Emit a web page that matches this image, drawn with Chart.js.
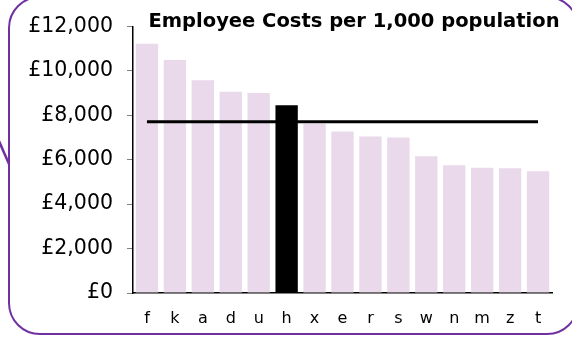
<!DOCTYPE html>
<html>
<head>
<meta charset="utf-8">
<script src="https://cdn.jsdelivr.net/npm/chart.js@4.4.1/dist/chart.umd.min.js"></script>
<style>
  html, body { margin: 0; padding: 0; background: #fff; overflow: hidden; }
  #wrap { position: relative; width: 572px; height: 338px; overflow: hidden; }
  #frame { position: absolute; left: 0; top: 0; }
  #myChart { position: absolute; left: 0; top: 0; }
</style>
</head>
<body>
<div id="wrap">
  <!-- rounded purple box round the chart, plus the pointer stroke on its left -->
  <svg id="frame" width="572" height="338">
    <rect x="9" y="-3" width="569" height="337" rx="31" ry="31" fill="none" stroke="#7030a0" stroke-width="2"/>
    <line x1="-1" y1="141" x2="9" y2="164" stroke="#7030a0" stroke-width="2.5"/>
  </svg>
  <canvas id="myChart" width="572" height="338"></canvas>
</div>
<script>
const titleText = 'Employee Costs per 1,000 population';
const categories = ['f', 'k', 'a', 'd', 'u', 'h', 'x', 'e', 'r', 's', 'w', 'n', 'm', 'z', 't'];
const costs = [11210, 10480, 9570, 9050, 9000, 8450, 7620, 7270, 7040, 7000, 6150, 5750, 5640, 5610, 5480];
const average = [7700, 7700, 7700, 7700, 7700, 7700, 7700, 7700, 7700, 7700, 7700, 7700, 7700, 7700, 7700];
const highlight = 'h';
const yTicks = [0, 2000, 4000, 6000, 8000, 10000, 12000];

const barColours = categories.map(c => c === highlight ? '#000000' : '#ead9eb');

// title sits inside the plot area, so draw it by hand
const titlePlugin = {
    id: 'insideTitle',
    afterDraw(chart) {
        const ctx = chart.ctx;
        ctx.save();
        ctx.font = 'bold 19.5px "DejaVu Sans"';
        ctx.fillStyle = '#000';
        ctx.textAlign = 'center';
        ctx.textBaseline = 'middle';
        ctx.fillText(titleText, 354, 22);
        ctx.restore();
    }
};

function start() {
    const ctx = document.getElementById('myChart');
    myChart = new Chart(ctx, {
        type: 'bar',
        data: {
            labels: categories,
            datasets: [
                {
                    type: 'line',
                    label: 'average',
                    data: average,
                    borderColor: '#000',
                    borderWidth: 3,
                    pointRadius: 0,
                    fill: false,
                    order: 0
                },
                {
                    label: titleText,
                    data: costs,
                    backgroundColor: barColours,
                    borderWidth: 0,
                    categoryPercentage: 1,
                    barPercentage: 0.8,
                    order: 1
                }
            ]
        },
        options: {
            responsive: false,
            animation: false,
            layout: {
                padding: { left: 0, right: 20, top: 25, bottom: 0 }
            },
            plugins: {
                legend: { display: false },
                tooltip: { enabled: false }
            },
            scales: {
                x: {
                    grid: { display: false, drawTicks: false },
                    border: { color: '#000', width: 1.5 },
                    ticks: {
                        color: '#000',
                        padding: 16,
                        font: { family: 'DejaVu Sans', size: 16 }
                    },
                    afterFit(scale) { scale.height = 45; }
                },
                y: {
                    min: 0,
                    max: 12000,
                    afterBuildTicks(scale) { scale.ticks = yTicks.map(v => ({ value: v })); },
                    grid: { drawOnChartArea: false, drawTicks: true, tickLength: 6, color: '#808080' },
                    border: { color: '#000', width: 1.5 },
                    ticks: {
                        color: '#000',
                        padding: 14,
                        font: { family: 'DejaVu Sans', size: 20.5 },
                        callback: v => '£' + v.toLocaleString('en-GB')
                    },
                    afterFit(scale) { scale.width = 133; }
                }
            }
        },
        plugins: [titlePlugin]
    });
}

start();
</script>
</body>
</html>
